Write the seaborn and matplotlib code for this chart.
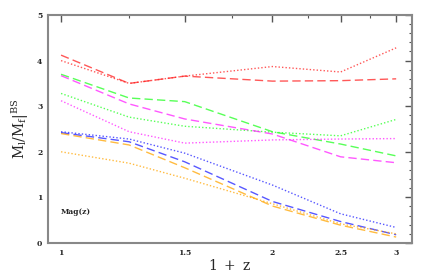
import matplotlib
matplotlib.use('Agg')
import matplotlib.pyplot as plt
from matplotlib.ticker import FixedLocator, NullFormatter
import pandas as pd
import seaborn as sns

# 1+z sampling points
opz = [1.0, 1.25, 1.5, 2.0, 2.5, 3.0]

# M_l/M_f ratios
red_dash = [4.12, 3.50, 3.66, 3.55, 3.56, 3.60]
red_dot = [4.00, 3.50, 3.66, 3.87, 3.75, 4.28]
green_dash = [3.70, 3.18, 3.10, 2.44, 2.17, 1.91]
green_dot = [3.28, 2.76, 2.56, 2.43, 2.35, 2.71]
magenta_dash = [3.67, 3.05, 2.72, 2.39, 1.89, 1.76]
magenta_dot = [3.12, 2.44, 2.19, 2.26, 2.28, 2.29]
blue_dash = [2.42, 2.22, 1.78, 0.91, 0.47, 0.18]
blue_dot = [2.44, 2.28, 1.97, 1.27, 0.64, 0.34]
orange_dash = [2.40, 2.15, 1.65, 0.81, 0.39, 0.13]
orange_dot = [2.00, 1.75, 1.42, 0.86, 0.42, 0.20]

series = [
    (red_dash, '#ff2020', 'dash'),
    (red_dot, '#ff2020', 'dot'),
    (green_dash, '#20ff20', 'dash'),
    (green_dot, '#20ff20', 'dot'),
    (magenta_dash, '#ff20ff', 'dash'),
    (magenta_dot, '#ff20ff', 'dot'),
    (blue_dash, '#2020ff', 'dash'),
    (blue_dot, '#2020ff', 'dot'),
    (orange_dash, '#ffa500', 'dash'),
    (orange_dot, '#ffa500', 'dot'),
]
dash_styles = {'dash': (6, 3), 'dot': (1, 1.5)}

sns.set_style('white')
plt.rcParams['mathtext.fontset'] = 'dejavuserif'
fig = plt.figure(figsize=(4.36, 2.73), dpi=100)
ax = fig.add_axes([0.110, 0.110, 0.835, 0.835])

for vals, color, style in series:
    df = pd.DataFrame({'opz': opz, 'ratio': vals})
    sns.lineplot(data=df, x='opz', y='ratio', ax=ax, color=color, linewidth=1.0,
                 alpha=0.75, dashes=False, legend=False)
    ax.lines[-1].set_dashes(dash_styles[style])

ax.set_xscale('log')
ax.set_xlim(0.958, 3.16)
ax.set_ylim(0, 5)

ax.xaxis.set_major_locator(FixedLocator([1, 1.5, 2, 2.5, 3]))
ax.xaxis.set_minor_locator(FixedLocator([1.25, 1.75, 2.25, 2.75]))
ax.xaxis.set_minor_formatter(NullFormatter())
ax.set_xticklabels(['1', '1.5', '2', '2.5', '3'])
ax.yaxis.set_major_locator(FixedLocator([0, 1, 2, 3, 4, 5]))
ax.yaxis.set_minor_locator(FixedLocator([i * 0.2 for i in range(26)]))

for lab in ax.get_xticklabels() + ax.get_yticklabels():
    lab.set_fontfamily('DejaVu Serif')
    lab.set_fontweight('bold')
    lab.set_fontsize(5.5)

ax.tick_params(which='both', direction='in', top=True, right=True, color='#555555')
ax.tick_params(which='major', length=5, width=1.0, pad=4)
ax.tick_params(which='minor', length=2.5, width=0.8)

for sp in ax.spines.values():
    sp.set_color('#888888')
    sp.set_linewidth(1.5)

ax.set_xlabel(r'$\mathrm{1\ +\ z}$', fontsize=10, labelpad=1)
ax.set_ylabel(r'$\mathrm{M_l/M_f|^{BS}}$', fontsize=10, labelpad=4)
ax.text(1.0, 0.63, 'Mag(z)', fontsize=5.5, fontweight='bold', family='DejaVu Serif')

fig.savefig('out.png', dpi=100)
